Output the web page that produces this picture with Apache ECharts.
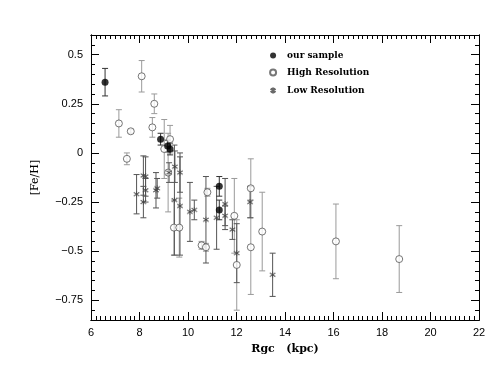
<!DOCTYPE html>
<html>
<head>
<meta charset="utf-8">
<script src="https://cdn.jsdelivr.net/npm/echarts@6/dist/echarts.min.js"></script>
<style>
  html, body { margin: 0; padding: 0; background: #fff; }
  #chart { width: 494px; height: 382px; }
</style>
</head>
<body>
<div id="chart"></div>
<script>
// our sample (filled dots)
const ourX = [6.58, 8.87, 9.16, 9.26, 11.29, 11.29];
const ourY = [0.36, 0.07, 0.035, 0.02, -0.17, -0.29];
const ourErr = [0.07, 0.03, 0.03, 0.03, 0.05, 0.05];

// high resolution (open circles)
const hiX = [7.15, 7.64, 7.48, 8.09, 8.61, 8.53, 9.02, 9.26, 9.18, 9.42, 9.64, 10.56, 10.74, 10.80, 11.91, 12.01, 12.59, 12.59, 13.06, 16.10, 18.71];
const hiY = [0.15, 0.11, -0.03, 0.39, 0.25, 0.13, 0.02, 0.07, -0.10, -0.38, -0.38, -0.47, -0.48, -0.20, -0.32, -0.57, -0.18, -0.48, -0.40, -0.45, -0.54];
const hiErr = [0.07, 0.01, 0.03, 0.08, 0.05, 0.05, 0.15, 0.07, 0.2, 0.14, 0.15, 0.02, 0.02, 0.02, 0.19, 0.23, 0.15, 0.24, 0.2, 0.19, 0.17];

// low resolution (asterisks)
const loX = [7.88, 8.16, 8.25, 8.25, 8.16, 8.68, 8.73, 9.22, 9.46, 9.44, 9.67, 9.67, 10.08, 10.26, 10.74, 11.18, 11.53, 11.53, 11.83, 12.01, 12.56, 13.49];
const loY = [-0.21, -0.115, -0.12, -0.19, -0.25, -0.19, -0.18, -0.10, -0.07, -0.24, -0.10, -0.27, -0.30, -0.29, -0.34, -0.33, -0.26, -0.32, -0.39, -0.51, -0.25, -0.62];
const loErr = [0.1, 0.1, 0.1, 0.06, 0.08, 0.09, 0.05, 0.05, 0.08, 0.28, 0.1, 0.25, 0.15, 0.05, 0.22, 0.16, 0.13, 0.05, 0.05, 0.15, 0.08, 0.11];

// axis ticks
const yTicks = [-0.75, -0.5, -0.25, 0, 0.25, 0.5];

const fontSans = 'Liberation Sans';
const fontSerif = 'DejaVu Serif';
const asterisk = 'path://M0,-5L0,5M-4.3,-2.5L4.3,2.5M-4.3,2.5L4.3,-2.5M-3.5,-3.5L3.5,3.5M-3.5,3.5L3.5,-3.5';

function pts(xs, ys) {
  return xs.map((x, i) => [x, ys[i]]);
}
function bars(xs, ys, es) {
  return xs.map((x, i) => [x, ys[i] - es[i], ys[i] + es[i]]);
}
function errSeries(data, color) {
  return {
    type: 'custom',
    data: data,
    encode: { x: 0, y: [1, 2] },
    z: 1,
    silent: true,
    renderItem(params, api) {
      const x = api.value(0);
      const top = api.coord([x, api.value(2)]);
      const bot = api.coord([x, api.value(1)]);
      const st = { stroke: color, lineWidth: 1 };
      const w = 3;
      return {
        type: 'group',
        children: [
          { type: 'line', shape: { x1: top[0], y1: top[1], x2: bot[0], y2: bot[1] }, style: st },
          { type: 'line', shape: { x1: top[0] - w, y1: top[1], x2: top[0] + w, y2: top[1] }, style: st },
          { type: 'line', shape: { x1: bot[0] - w, y1: bot[1], x2: bot[0] + w, y2: bot[1] }, style: st }
        ]
      };
    }
  };
}

const line = { show: true, onZero: false, lineStyle: { color: '#000', width: 1 } };
function xAx(pos, major, withLabel) {
  return {
    type: 'value', min: 6, max: 22, interval: major ? 2 : 0.2, position: pos,
    axisLine: line,
    axisTick: { show: true, inside: true, length: major ? 8 : 4, lineStyle: { color: '#000' } },
    axisLabel: { show: withLabel, color: '#000', fontFamily: fontSans, fontSize: 11, margin: 7 },
    splitLine: { show: false },
    name: withLabel ? 'Rgc   (kpc)' : '',
    nameLocation: 'middle', nameGap: 24,
    nameTextStyle: { color: '#000', fontFamily: fontSerif, fontSize: 11, fontWeight: 'bold' }
  };
}
function yAx(pos, major, withLabel) {
  const ax = {
    type: 'value', min: -0.85, max: 0.6, position: pos,
    axisLine: line,
    axisTick: { show: true, inside: true, length: major ? 8 : 4, lineStyle: { color: '#000' } },
    axisLabel: {
      show: withLabel, color: '#000', fontFamily: fontSans, fontSize: 11, margin: 8,
      formatter: v => (v < 0 ? '\u2212' + String(-v) : String(v))
    },
    splitLine: { show: false },
    name: withLabel ? '[Fe/H]' : '',
    nameLocation: 'middle', nameGap: 50, nameRotate: 90,
    nameTextStyle: { color: '#000', fontFamily: fontSerif, fontSize: 11 }
  };
  if (major) {
    ax.axisTick.customValues = yTicks;
    ax.axisLabel.customValues = yTicks;
  } else {
    ax.interval = 0.05;
  }
  return ax;
}

const chart = echarts.init(document.getElementById('chart'));
chart.setOption({
  backgroundColor: '#fff',
  animation: false,
  grid: { left: 91, right: 15, top: 35, bottom: 62 },
  xAxis: [xAx('bottom', true, true), xAx('bottom', false, false), xAx('top', true, false), xAx('top', false, false)],
  yAxis: [yAx('left', true, true), yAx('left', false, false), yAx('right', true, false), yAx('right', false, false)],
  legend: {
    orient: 'vertical', left: 263, top: 46, itemGap: 8,
    itemWidth: 6, itemHeight: 6,
    data: ['our sample', 'High Resolution', 'Low Resolution'],
    textStyle: { color: '#000', fontFamily: fontSerif, fontSize: 9, fontWeight: 'bold', padding: [0, 0, 0, 6] }
  },
  series: [
    errSeries(bars(hiX, hiY, hiErr), '#9a9a9a'),
    errSeries(bars(loX, loY, loErr), '#555'),
    errSeries(bars(ourX, ourY, ourErr), '#333'),
    {
      name: 'High Resolution', type: 'scatter', z: 3,
      symbol: 'circle', symbolSize: 7,
      itemStyle: { color: '#fff', borderColor: '#555', borderWidth: 1 },
      data: pts(hiX, hiY)
    },
    {
      name: 'Low Resolution', type: 'scatter', z: 3,
      symbol: asterisk, symbolSize: 6,
      itemStyle: { color: 'none', borderColor: '#444', borderWidth: 0.8 },
      data: pts(loX, loY)
    },
    {
      name: 'our sample', type: 'scatter', z: 4,
      symbol: 'circle', symbolSize: 7,
      itemStyle: { color: '#000' },
      data: pts(ourX, ourY)
    }
  ]
});
</script>
</body>
</html>
